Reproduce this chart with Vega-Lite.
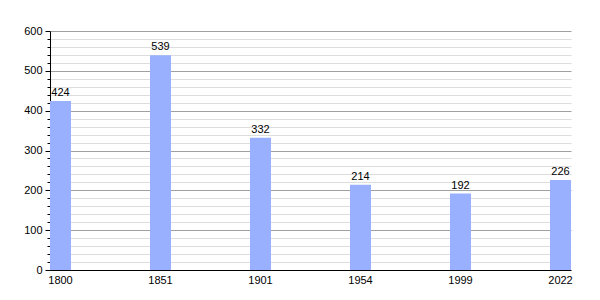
{
  "$schema": "https://vega.github.io/schema/vega-lite/v6.json",
  "width": 521,
  "height": 239,
  "autosize": "none",
  "padding": {"left": 50, "top": 31, "right": 29, "bottom": 30},
  "background": "white",
  "config": {
    "view": {"stroke": null},
    "font": "Liberation Sans",
    "axis": {"labelFont": "Liberation Sans", "labelFontSize": 11, "labelColor": "black"}
  },
  "data": {"values": [
    {"year": "1800", "pop": 424},
    {"year": "1851", "pop": 539},
    {"year": "1901", "pop": 332},
    {"year": "1954", "pop": 214},
    {"year": "1999", "pop": 192},
    {"year": "2022", "pop": 226}
  ]},
  "encoding": {
    "x": {"field": "year", "type": "ordinal", "sort": null,
      "scale": {"paddingInner": 0.79, "paddingOuter": 0},
      "axis": {"title": null, "labelAngle": 0, "ticks": false, "domainColor": "black", "labelPadding": 4}},
    "y": {"field": "pop", "type": "quantitative",
      "scale": {"domain": [0, 600], "nice": false},
      "axis": {"title": null,
        "values": [0,20,40,60,80,100,120,140,160,180,200,220,240,260,280,300,320,340,360,380,400,420,440,460,480,500,520,540,560,580,600],
        "labelExpr": "datum.value % 100 === 0 ? datum.label : ''",
        "grid": true,
        "gridColor": {"condition": {"test": "datum.value % 100 === 0", "value": "#a0a0a0"}, "value": "#dddddd"},
        "tickColor": "black",
        "tickSize": {"condition": {"test": "datum.value % 100 === 0", "value": 5}, "value": 3},
        "domainColor": "black",
        "labelPadding": 3,
        "labelOverlap": false}}
  },
  "layer": [
    {"mark": {"type": "bar", "color": "#99b0ff"}},
    {"mark": {"type": "text", "baseline": "bottom", "dy": -3, "fontSize": 11, "color": "black"},
     "encoding": {"text": {"field": "pop", "type": "quantitative"}}}
  ]
}
